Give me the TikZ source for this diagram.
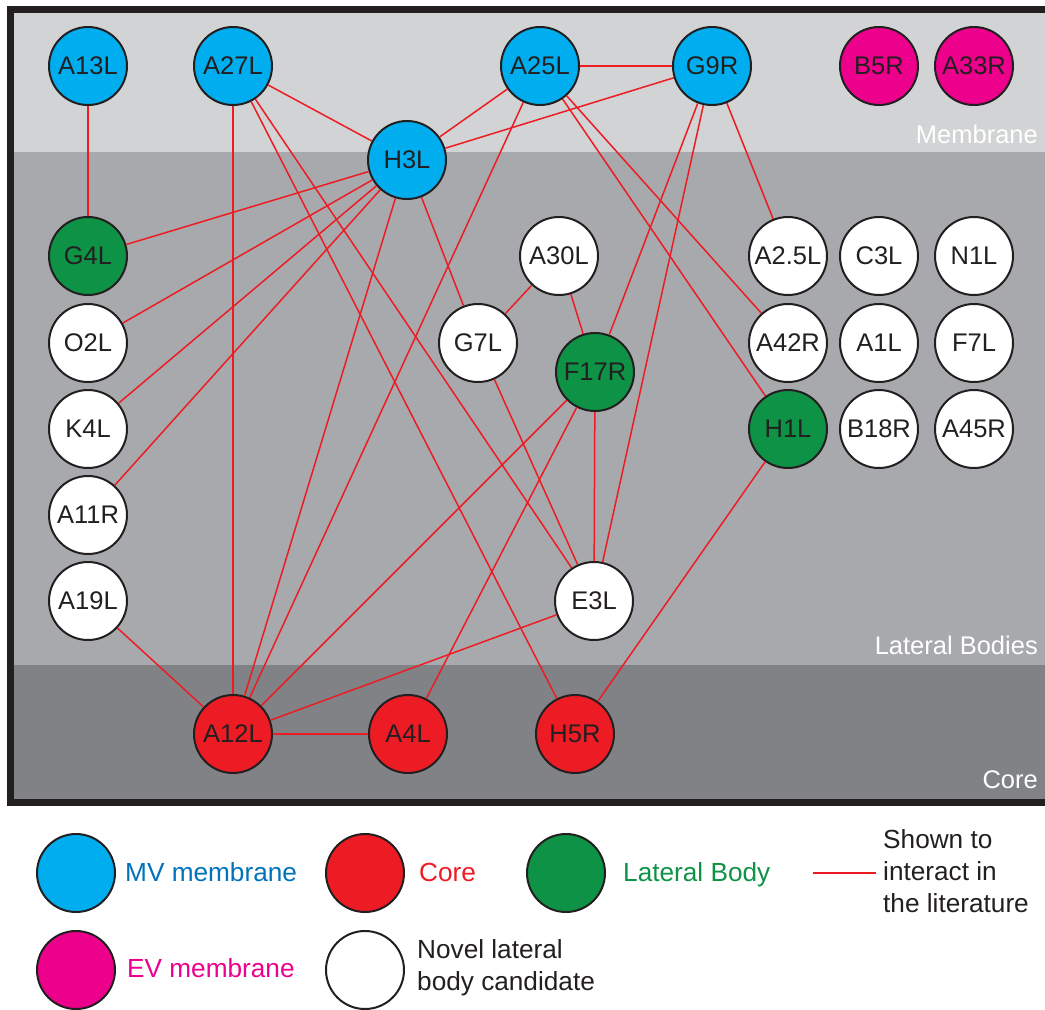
\documentclass[tikz,border=0pt]{standalone}
\usepackage{fontspec}
\setmainfont{Liberation Sans}
\definecolor{dk}{RGB}{35,31,32}
\definecolor{mvblue}{RGB}{0,174,239}
\definecolor{mvtext}{RGB}{0,114,188}
\definecolor{corered}{RGB}{237,28,36}
\definecolor{lbgreen}{RGB}{14,146,69}
\definecolor{evmag}{RGB}{236,0,140}
\definecolor{membg}{RGB}{209,211,212}
\definecolor{latbg}{RGB}{167,169,172}
\definecolor{corebg}{RGB}{128,130,133}
\begin{document}
\begin{tikzpicture}[x=1pt,y=-1pt,
  vnode/.style={circle, draw=dk, line width=2pt, minimum size=78pt, inner sep=0pt, text=dk, font=\fontsize{25.5}{25.5}\selectfont},
  mv/.style={vnode, fill=mvblue},
  cr/.style={vnode, fill=corered},
  lb/.style={vnode, fill=lbgreen},
  ev/.style={vnode, fill=evmag},
  nv/.style={vnode, fill=white},
  edge/.style={draw=corered, line width=1.5pt},
  bandlbl/.style={anchor=base east, text=white, inner sep=0pt, font=\fontsize{25.5}{25.5}\selectfont},
  legtxt/.style={anchor=base west, inner sep=0pt, font=\fontsize{26.2}{26.2}\selectfont}]
\useasboundingbox (0,0) rectangle (1045,1010);
\clip (0,0) rectangle (1045,1010);
% bands
\fill[membg] (10,10) rectangle (1060,152);
\fill[latbg] (10,152) rectangle (1060,665);
\fill[corebg] (10,665) rectangle (1060,802);
\draw[dk, line width=6.5pt] (10.3,9.5) rectangle (1060,802.5);
\node[bandlbl] (lmem) at (1038,143) {Membrane};
\node[bandlbl] (llat) at (1038,654) {Lateral Bodies};
\node[bandlbl] (lcore) at (1038,788) {Core};
% nodes
\node[mv] (A13L) at (88,66) {A13L};
\node[mv] (A27L) at (233,66) {A27L};
\node[mv] (A25L) at (540,66) {A25L};
\node[mv] (G9R) at (712,66) {G9R};
\node[ev] (B5R) at (879,66) {B5R};
\node[ev] (A33R) at (974,66) {A33R};
\node[mv] (H3L) at (407,160) {H3L};
\node[lb] (G4L) at (88,256) {G4L};
\node[nv] (O2L) at (88,343) {O2L};
\node[nv] (K4L) at (88,429) {K4L};
\node[nv] (A11R) at (88,515) {A11R};
\node[nv] (A19L) at (88,601) {A19L};
\node[nv] (A30L) at (559,256) {A30L};
\node[nv] (G7L) at (478,343) {G7L};
\node[lb] (F17R) at (595,372) {F17R};
\node[nv] (E3L) at (594,601) {E3L};
\node[nv] (A2p5L) at (788,256) {A2.5L};
\node[nv] (C3L) at (879,256) {C3L};
\node[nv] (N1L) at (974,256) {N1L};
\node[nv] (A42R) at (788,343) {A42R};
\node[nv] (A1L) at (879,343) {A1L};
\node[nv] (F7L) at (974,343) {F7L};
\node[lb] (H1L) at (788,429) {H1L};
\node[nv] (B18R) at (879,429) {B18R};
\node[nv] (A45R) at (974,429) {A45R};
\node[cr] (A12L) at (233,734) {A12L};
\node[cr] (A4L) at (408,734) {A4L};
\node[cr] (H5R) at (575,734) {H5R};
% edges
\draw[edge] (A13L) -- (G4L);
\draw[edge] (A27L) -- (H3L);
\draw[edge] (A27L) -- (A12L);
\draw[edge] (A27L) -- (E3L);
\draw[edge] (A27L) -- (H5R);
\draw[edge] (A25L) -- (G9R);
\draw[edge] (A25L) -- (H3L);
\draw[edge] (G9R) -- (H3L);
\draw[edge] (A25L) -- (A12L);
\draw[edge] (A25L) -- (A42R);
\draw[edge] (A25L) -- (H1L);
\draw[edge] (G9R) -- (F17R);
\draw[edge] (G9R) -- (E3L);
\draw[edge] (G9R) -- (A2p5L);
\draw[edge] (H3L) -- (G4L);
\draw[edge] (H3L) -- (O2L);
\draw[edge] (H3L) -- (K4L);
\draw[edge] (H3L) -- (A11R);
\draw[edge] (H3L) -- (A12L);
\draw[edge] (H3L) -- (G7L);
\draw[edge] (A30L) -- (G7L);
\draw[edge] (A30L) -- (F17R);
\draw[edge] (G7L) -- (E3L);
\draw[edge] (F17R) -- (A12L);
\draw[edge] (F17R) -- (A4L);
\draw[edge] (F17R) -- (E3L);
\draw[edge] (E3L) -- (A12L);
\draw[edge] (A19L) -- (A12L);
\draw[edge] (A12L) -- (A4L);
\draw[edge] (H1L) -- (H5R);
% legend
\node[mv] (kMV) at (76,873) {};
\node[cr] (kCore) at (365,873) {};
\node[lb] (kLB) at (566,873) {};
\node[ev] (kEV) at (76,970) {};
\node[nv] (kNV) at (365,970) {};
\node[legtxt, text=mvtext] (tMV) at (125,881) {MV membrane};
\node[legtxt, text=corered] (tCore) at (419,881) {Core};
\node[legtxt, text=lbgreen] (tLB) at (623,881) {Lateral Body};
\node[legtxt, text=evmag] (tEV) at (127,977) {EV membrane};
\coordinate (lgA) at (813,873);
\coordinate (lgB) at (876,873);
\draw[edge] (lgA) -- (lgB);
\node[legtxt, text=dk] (tS1) at (883,848) {Shown to};
\node[legtxt, text=dk] (tS2) at (883,880) {interact in};
\node[legtxt, text=dk] (tS3) at (883,912) {the literature};
\node[legtxt, text=dk] (tN1) at (417,958) {Novel lateral};
\node[legtxt, text=dk] (tN2) at (417,990) {body candidate};
\end{tikzpicture}
\end{document}
